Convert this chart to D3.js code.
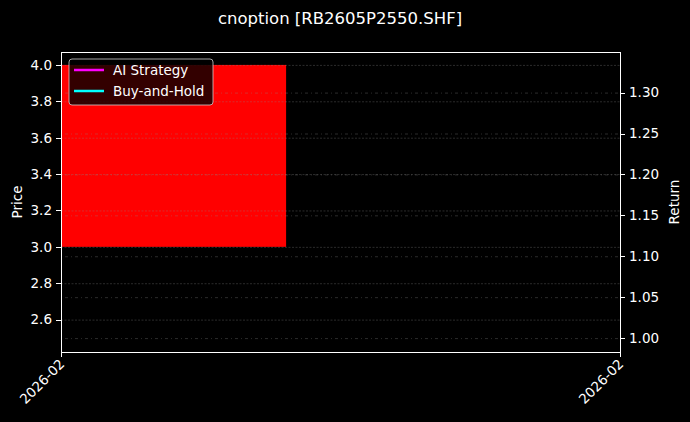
<!DOCTYPE html>
<html>
<head>
<meta charset="utf-8">
<script src="https://cdn.jsdelivr.net/npm/d3@7"></script>
<style>
  html, body { margin: 0; padding: 0; background: #000; }
  svg { display: block; font-family: "DejaVu Sans", sans-serif; }
</style>
</head>
<body>
<div id="chart"></div>
<script>
// Data
const dates = ['2026-02-01'];
const openPrice = [4.0];
const closePrice = [3.0];
const highPrice = [4.0];
const lowPrice = [3.0];
const aiReturn = [1.0];
const bhReturn = [1.0];
const priceTicks = [2.6, 2.8, 3.0, 3.2, 3.4, 3.6, 3.8, 4.0];
const returnTicks = [1.00, 1.05, 1.10, 1.15, 1.20, 1.25, 1.30];
const xDomain = ['2026-02-01', '2026-02-02'];
const title = 'cnoption [RB2605P2550.SHF]';

// Chart dimensions
const W = 690, H = 422;
const margin = { top: 52, right: 70, bottom: 70, left: 61 };
const width = W - margin.left - margin.right;
const height = H - margin.top - margin.bottom;
const fs = 13.5;

const parse = d3.utcParse('%Y-%m-%d');
const candles = dates.map((d, i) => ({
  date: parse(d), open: openPrice[i], close: closePrice[i], high: highPrice[i], low: lowPrice[i]
}));

// Scales
const x = d3.scaleUtc().domain(xDomain.map(parse)).range([0, width]);
const yPrice = d3.scaleLinear().domain([2.422, 4.071]).range([height, 0]);
const yRet = d3.scaleLinear().domain([0.983, 1.3496]).range([height, 0]);

const root = d3.select('#chart').append('svg')
  .attr('width', W).attr('height', H);

root.append('rect').attr('width', W).attr('height', H).attr('fill', '#000');

root.append('text')
  .attr('x', W / 2 - 5).attr('y', 24)
  .attr('text-anchor', 'middle')
  .attr('fill', '#fff')
  .attr('font-size', 16.5)
  .text(title);

const svg = root.append('g').attr('transform', `translate(${margin.left},${margin.top})`);

svg.append('clipPath').attr('id', 'clip')
  .append('rect').attr('width', width).attr('height', height);

// Candle bodies (0.8 day wide)
const halfDay = 0.4 * 24 * 3600 * 1000;
const plot = svg.append('g').attr('clip-path', 'url(#clip)');
plot.selectAll('rect.candle')
  .data(candles)
  .join('rect')
  .attr('class', 'candle')
  .attr('x', d => x(new Date(+d.date - halfDay)))
  .attr('width', d => x(new Date(+d.date + halfDay)) - x(new Date(+d.date - halfDay)) + 1.5)
  .attr('y', d => yPrice(Math.max(d.open, d.close)))
  .attr('height', d => Math.abs(yPrice(d.open) - yPrice(d.close)))
  .attr('fill', d => d.close < d.open ? '#ff0000' : '#00ff00');

// Grid lines: price (dashed) and return (dotted)
svg.append('g')
  .call(d3.axisLeft(yPrice).tickValues(priceTicks).tickSize(-width).tickFormat(''))
  .call(g => g.select('.domain').remove())
  .selectAll('line')
  .attr('stroke', '#888').attr('stroke-opacity', 0.45)
  .attr('stroke-width', 0.7).attr('stroke-dasharray', '2,1.5');

svg.append('g')
  .call(d3.axisRight(yRet).tickValues(returnTicks).tickSize(width).tickFormat(''))
  .call(g => g.select('.domain').remove())
  .selectAll('line')
  .attr('stroke', '#888').attr('stroke-opacity', 0.45)
  .attr('stroke-width', 0.7).attr('stroke-dasharray', '1,3,3,3');

// Return lines (single point each)
const retLine = d3.line().x((d, i) => x(candles[i].date)).y(d => yRet(d));
plot.append('path').datum(aiReturn)
  .attr('fill', 'none').attr('stroke', '#ff00ff').attr('stroke-width', 2).attr('d', retLine);
plot.append('path').datum(bhReturn)
  .attr('fill', 'none').attr('stroke', '#00ffff').attr('stroke-width', 2).attr('d', retLine);

// Axes
const styleAxis = g => {
  g.selectAll('.domain').remove();
  g.selectAll('line').attr('stroke', '#fff').attr('stroke-width', 1).attr('shape-rendering', 'crispEdges');
  g.selectAll('text').attr('fill', '#fff').attr('font-size', fs).attr('font-family', '"DejaVu Sans", sans-serif');
};

svg.append('g')
  .call(d3.axisLeft(yPrice).tickValues(priceTicks).tickFormat(d3.format('.1f')).tickSize(5).tickPadding(4))
  .call(styleAxis);

svg.append('g')
  .attr('transform', `translate(${width},0)`)
  .call(d3.axisRight(yRet).tickValues(returnTicks).tickFormat(d3.format('.2f')).tickSize(5).tickPadding(4))
  .call(styleAxis);

const xAxis = svg.append('g')
  .attr('transform', `translate(0,${height})`)
  .call(d3.axisBottom(x).tickValues(xDomain.map(parse)).tickFormat(d3.utcFormat('%Y-%m')).tickSize(5))
  .call(styleAxis);
xAxis.selectAll('text')
  .attr('text-anchor', 'end')
  .attr('transform', 'translate(-7,2) rotate(-45)')
  .attr('dy', '0.7em')
  .attr('y', 6)
  .attr('x', 0);

// Frame
svg.append('rect')
  .attr('x', 0.5).attr('y', 0.5)
  .attr('width', width).attr('height', height)
  .attr('fill', 'none').attr('stroke', '#fff').attr('stroke-width', 1)
  .attr('shape-rendering', 'crispEdges');

// Axis labels
root.append('text')
  .attr('transform', `translate(22,${margin.top + height / 2}) rotate(-90)`)
  .attr('text-anchor', 'middle').attr('fill', '#fff').attr('font-size', fs)
  .text('Price');
root.append('text')
  .attr('transform', `translate(679,${margin.top + height / 2}) rotate(-90)`)
  .attr('text-anchor', 'middle').attr('fill', '#fff').attr('font-size', fs)
  .text('Return');

// Legend
const legendItems = [
  { label: 'AI Strategy', color: '#ff00ff' },
  { label: 'Buy-and-Hold', color: '#00ffff' }
];
const legend = svg.append('g').attr('transform', 'translate(8,7)');
legend.append('rect')
  .attr('width', 144).attr('height', 46).attr('rx', 3)
  .attr('fill', '#000').attr('fill-opacity', 0.8)
  .attr('stroke', '#ccc').attr('stroke-opacity', 0.8).attr('stroke-width', 1);
const li = legend.selectAll('g.item').data(legendItems).join('g')
  .attr('class', 'item')
  .attr('transform', (d, i) => `translate(0,${11 + i * 21})`);
li.append('line')
  .attr('x1', 5).attr('x2', 35).attr('y1', 0).attr('y2', 0)
  .attr('stroke', d => d.color).attr('stroke-width', 2.5);
li.append('text')
  .attr('x', 44).attr('y', 0).attr('dy', '0.35em')
  .attr('fill', '#fff').attr('font-size', fs)
  .text(d => d.label);
</script>
</body>
</html>
